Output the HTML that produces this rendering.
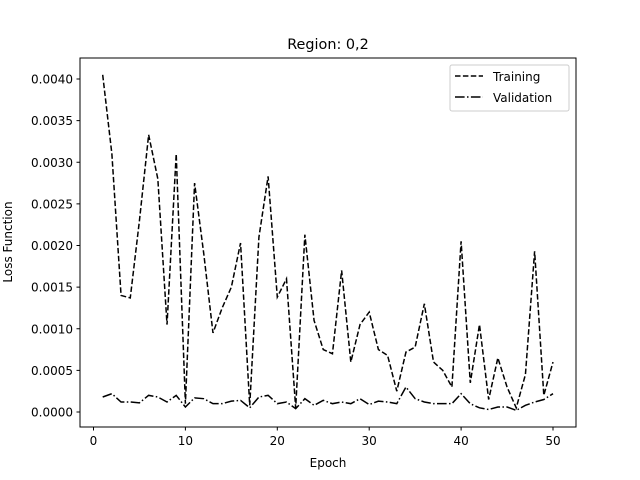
<!DOCTYPE html>
<html><head><meta charset="utf-8"><style>
body{margin:0;background:#fff}
svg{display:block;font-family:"DejaVu Sans","Liberation Sans",sans-serif}
</style></head><body>
<svg id="chart" width="640" height="480" viewBox="0 0 640 480">
<rect width="640" height="480" fill="#fff"/>
<text x="328" y="49" font-size="14.4" text-anchor="middle">Region: 0,2</text>
<g id="ticks"></g>
<g id="series"></g>
<rect x="80" y="58" width="496" height="369" fill="none" stroke="#000" stroke-width="1"/>
<text x="328" y="467" font-size="12" text-anchor="middle">Epoch</text>
<text transform="translate(12,242) rotate(-90)" font-size="12" text-anchor="middle">Loss Function</text>
<g>
<rect x="450" y="65" width="119" height="46" rx="2" fill="#fff" stroke="#ccc" stroke-width="1"/>
<line x1="455" y1="76" x2="483" y2="76" stroke="#000" stroke-width="1.5" stroke-dasharray="5.5,2.4"/>
<text x="493" y="81" font-size="12">Training</text>
<line x1="455" y1="97" x2="483" y2="97" stroke="#000" stroke-width="1.5" stroke-dasharray="9.6,2.4,1.5,2.4"/>
<text x="493" y="102" font-size="12">Validation</text>
</g>
</svg>
<script>
const training=[0.00405,0.0031,0.0014,0.00137,0.0023,0.00333,0.0028,0.00105,0.0031,0.0001,0.00275,0.0019,0.00095,0.00125,0.0015,0.00203,0.00008,0.0021,0.00283,0.00138,0.0016,0.00005,0.00213,0.0011,0.00075,0.0007,0.0017,0.0006,0.00105,0.0012,0.00075,0.00068,0.00025,0.00072,0.00078,0.0013,0.0006,0.0005,0.0003,0.00205,0.00035,0.00105,0.00015,0.00065,0.0003,0.00005,0.00045,0.00193,0.0002,0.0006];
const validation=[0.00018,0.00022,0.00012,0.00012,0.00011,0.0002,0.00018,0.00012,0.0002,0.00006,0.00017,0.00016,0.0001,0.0001,0.00013,0.00014,0.00005,0.00018,0.0002,0.0001,0.00012,0.00004,0.00016,0.00008,0.00014,0.0001,0.00012,0.0001,0.00016,0.00009,0.00013,0.00012,0.0001,0.0003,0.00016,0.00012,0.0001,0.0001,0.0001,0.00022,0.0001,0.00005,0.00003,0.00006,0.00006,0.00002,0.00008,0.00012,0.00015,0.00022];
const xTicks=[0,10,20,30,40,50];
const yTicks=[0,0.0005,0.001,0.0015,0.002,0.0025,0.003,0.0035,0.004];
const NS="http://www.w3.org/2000/svg";
const xs=v=>93.5+(v)*(553-93.5)/50;
const ys=v=>412-v*(412-79)/0.004;
const tg=document.getElementById('ticks');
xTicks.forEach(t=>{
 const l=document.createElementNS(NS,'line');
 l.setAttribute('x1',xs(t));l.setAttribute('x2',xs(t));l.setAttribute('y1',427);l.setAttribute('y2',430.5);l.setAttribute('stroke','#000');
 
 
 tg.appendChild(l);
 const tx=document.createElementNS(NS,'text');
 tx.setAttribute('x',xs(t));tx.setAttribute('y',445);tx.setAttribute('font-size','12');tx.setAttribute('text-anchor','middle');
 tx.textContent=t;
 
 
 tg.appendChild(tx);
});
yTicks.forEach(t=>{
 const l=document.createElementNS(NS,'line');
 l.setAttribute('x1',76.5);l.setAttribute('x2',80);l.setAttribute('y1',ys(t));l.setAttribute('y2',ys(t));l.setAttribute('stroke','#000');
 
 
 tg.appendChild(l);
 const tx=document.createElementNS(NS,'text');
 tx.setAttribute('x',73);tx.setAttribute('y',ys(t)+4.5);tx.setAttribute('font-size','12');tx.setAttribute('text-anchor','end');
 tx.textContent=t.toFixed(4);
 
 
 tg.appendChild(tx);
});
const sg=document.getElementById('series');
function draw(arr,dash,name){
 const p=document.createElementNS(NS,'polyline');
 p.setAttribute('points',arr.map((v,i)=>xs(i+1)+','+ys(v)).join(' '));
 p.setAttribute('fill','none');p.setAttribute('stroke','#000');p.setAttribute('stroke-width','1.5');
 p.setAttribute('stroke-dasharray',dash);
 
 
 sg.appendChild(p);
}
draw(training,'5.5,2.4','training-line');
draw(validation,'9.6,2.4,1.5,2.4','validation-line');
</script>
</body></html>
